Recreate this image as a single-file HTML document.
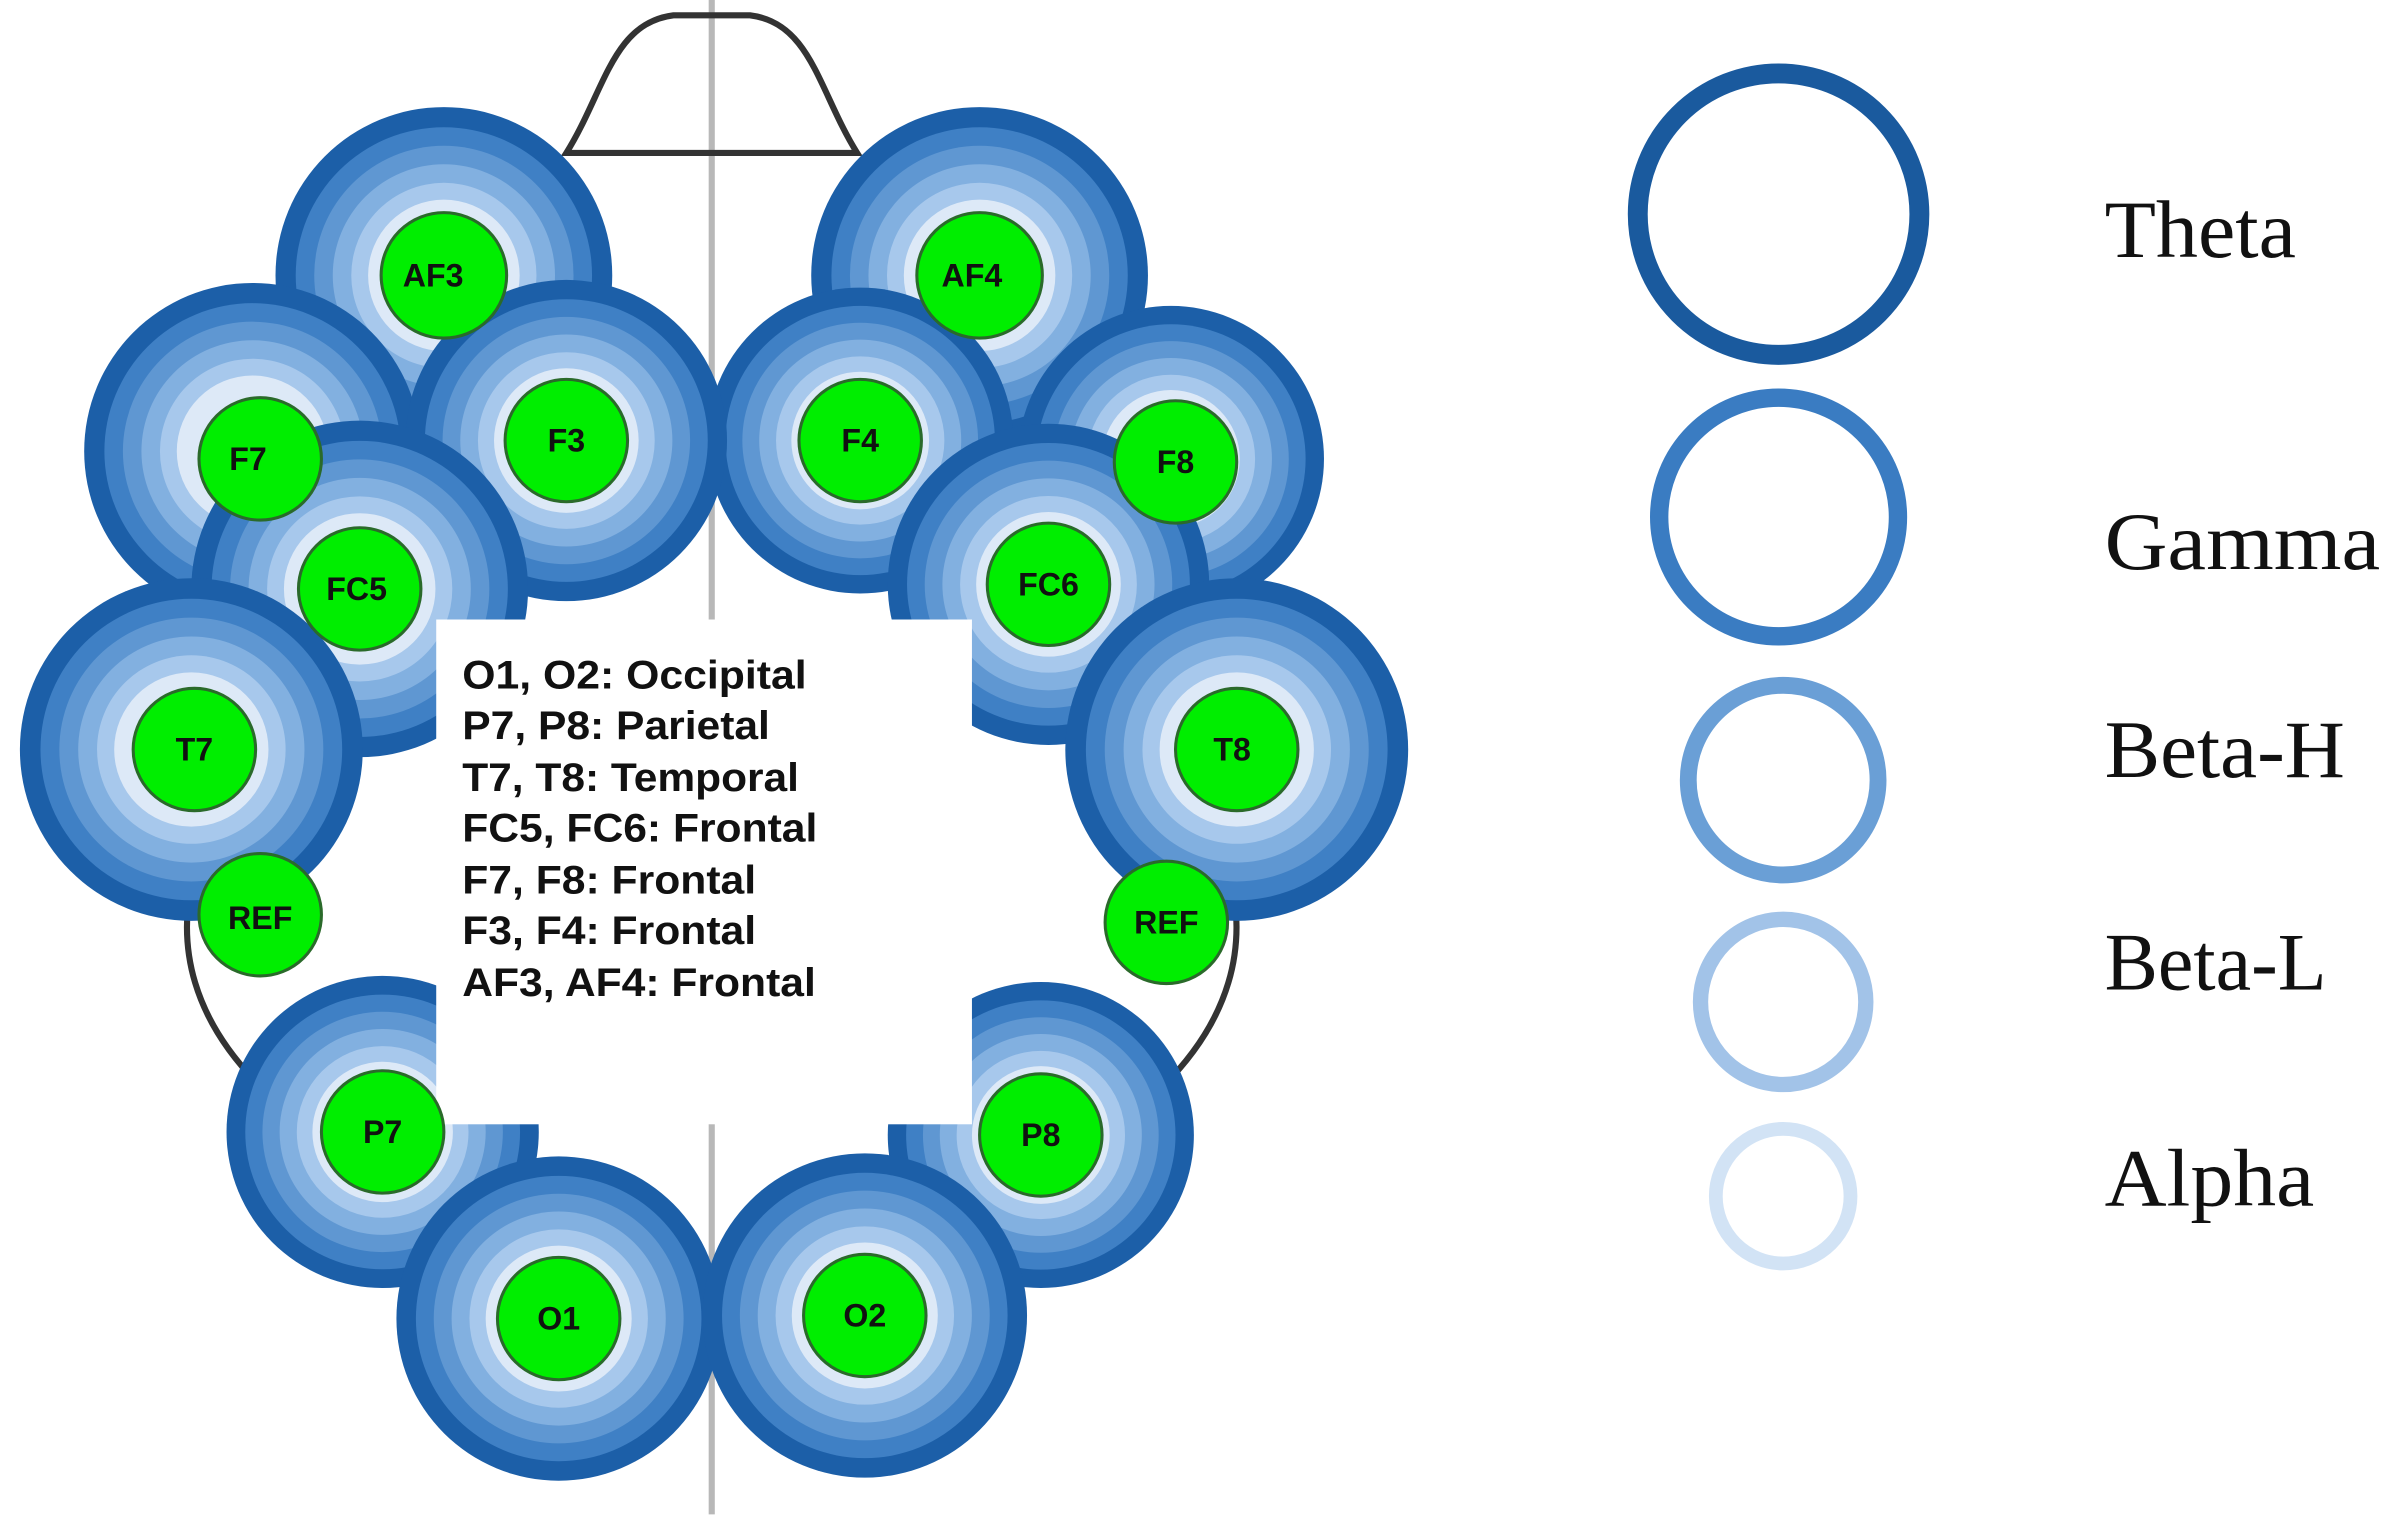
<!DOCTYPE html>
<html><head><meta charset="utf-8"><style>
html,body{margin:0;padding:0;background:#fff;}
svg{display:block;}
.lbl{font-family:"Liberation Sans",sans-serif;font-weight:bold;font-size:21px;fill:#111;text-anchor:middle;dominant-baseline:central;}
.leg{font-family:"Liberation Serif",serif;font-size:53px;fill:#111;}
.box{font-family:"Liberation Sans",sans-serif;font-weight:bold;font-size:26px;fill:#111;}
</style></head><body>
<svg width="2400" height="1522" viewBox="0 0 1568 995" preserveAspectRatio="none" xmlns="http://www.w3.org/2000/svg">
<defs>
<g id="rings">
<circle r="1" fill="#1c5fa8"/>
<circle r="0.88" fill="#3f80c5"/>
<circle r="0.77" fill="#5f97d2"/>
<circle r="0.66" fill="#82b0e0"/>
<circle r="0.55" fill="#a7c8ec"/>
<circle r="0.45" fill="#dde9f7"/>
</g>
</defs>
<line x1="465" y1="0" x2="465" y2="990" stroke="#b8b8b8" stroke-width="4"/>
<path d="M370,100 C395,60 400,15 440,10 L490,10 C530,15 535,60 560,100 Z" fill="none" stroke="#333" stroke-width="4"/>
<path d="M130,560 C110,620 130,670 170,710" fill="none" stroke="#333" stroke-width="4"/>
<path d="M800,560 C820,620 800,670 760,710" fill="none" stroke="#333" stroke-width="4"/>

<g transform="translate(290,180) scale(110)"><use href="#rings"/></g>
<g transform="translate(640,180) scale(110)"><use href="#rings"/></g>
<g transform="translate(165,295) scale(110)"><use href="#rings"/></g>
<g transform="translate(765,300) scale(100)"><use href="#rings"/></g>
<g transform="translate(562,288) scale(100)"><use href="#rings"/></g>
<g transform="translate(370,288) scale(105)"><use href="#rings"/></g>
<g transform="translate(235,385) scale(110)"><use href="#rings"/></g>
<g transform="translate(685,382) scale(105)"><use href="#rings"/></g>
<g transform="translate(125,490) scale(112)"><use href="#rings"/></g>
<g transform="translate(808,490) scale(112)"><use href="#rings"/></g>
<g transform="translate(250,740) scale(102)"><use href="#rings"/></g>
<g transform="translate(680,742) scale(100)"><use href="#rings"/></g>
<g transform="translate(365,862) scale(106)"><use href="#rings"/></g>
<g transform="translate(565,860) scale(106)"><use href="#rings"/></g>

<rect x="285" y="405" width="350" height="330" fill="#fff"/>
<g class="box">
<text x="302" y="450" textLength="225" lengthAdjust="spacingAndGlyphs">O1, O2: Occipital</text>
<text x="302" y="483" textLength="201" lengthAdjust="spacingAndGlyphs">P7, P8: Parietal</text>
<text x="302" y="517" textLength="220" lengthAdjust="spacingAndGlyphs">T7, T8: Temporal</text>
<text x="302" y="550" textLength="232" lengthAdjust="spacingAndGlyphs">FC5, FC6: Frontal</text>
<text x="302" y="584" textLength="192" lengthAdjust="spacingAndGlyphs">F7, F8: Frontal</text>
<text x="302" y="617" textLength="192" lengthAdjust="spacingAndGlyphs">F3, F4: Frontal</text>
<text x="302" y="651" textLength="231" lengthAdjust="spacingAndGlyphs">AF3, AF4: Frontal</text>
</g>

<g fill="#00ee00" stroke="#2a6a2a" stroke-width="2">
<circle cx="290" cy="180" r="41"/><circle cx="640" cy="180" r="41"/>
<circle cx="370" cy="288" r="40"/><circle cx="562" cy="288" r="40"/>
<circle cx="170" cy="300" r="40"/><circle cx="768" cy="302" r="40"/>
<circle cx="235" cy="385" r="40"/><circle cx="685" cy="382" r="40"/>
<circle cx="127" cy="490" r="40"/><circle cx="808" cy="490" r="40"/>
<circle cx="170" cy="598" r="40"/><circle cx="762" cy="603" r="40"/>
<circle cx="250" cy="740" r="40"/><circle cx="680" cy="742" r="40"/>
<circle cx="365" cy="862" r="40"/><circle cx="565" cy="860" r="40"/>
</g>
<g class="lbl">
<text x="283" y="180">AF3</text><text x="635" y="180">AF4</text>
<text x="370" y="288">F3</text><text x="562" y="288">F4</text>
<text x="162" y="300">F7</text><text x="768" y="302">F8</text>
<text x="233" y="385">FC5</text><text x="685" y="382">FC6</text>
<text x="127" y="490">T7</text><text x="805" y="490">T8</text>
<text x="170" y="600">REF</text><text x="762" y="603">REF</text>
<text x="250" y="740">P7</text><text x="680" y="742">P8</text>
<text x="365" y="862">O1</text><text x="565" y="860">O2</text>
</g>

<circle cx="1162" cy="140" r="92" fill="none" stroke="#1a5a9e" stroke-width="13"/>
<circle cx="1162" cy="338" r="78" fill="none" stroke="#3a7cc2" stroke-width="12"/>
<circle cx="1165" cy="510" r="62" fill="none" stroke="#6a9fd6" stroke-width="11"/>
<circle cx="1165" cy="655" r="54" fill="none" stroke="#a2c3e8" stroke-width="10"/>
<circle cx="1165" cy="782" r="44" fill="none" stroke="#d2e3f5" stroke-width="9"/>
<g class="leg">
<text x="1375" y="168" textLength="125" lengthAdjust="spacingAndGlyphs">Theta</text>
<text x="1375" y="372" textLength="180" lengthAdjust="spacingAndGlyphs">Gamma</text>
<text x="1375" y="508" textLength="157" lengthAdjust="spacingAndGlyphs">Beta-H</text>
<text x="1375" y="647" textLength="145" lengthAdjust="spacingAndGlyphs">Beta-L</text>
<text x="1375" y="788" textLength="137" lengthAdjust="spacingAndGlyphs">Alpha</text>
</g>
</svg>
</body></html>
